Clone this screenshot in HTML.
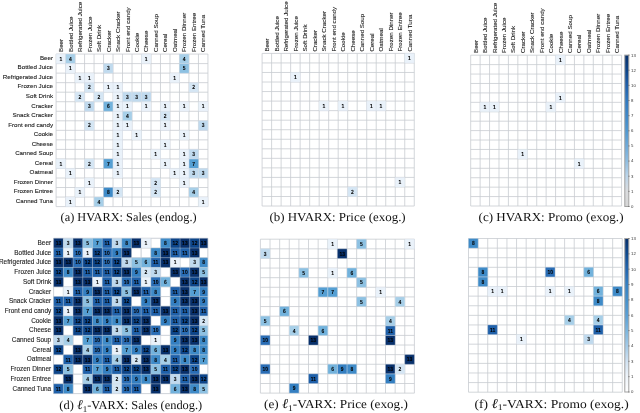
<!DOCTYPE html><html><head><meta charset="utf-8"><style>html,body{margin:0;padding:0;background:#fff;width:640px;height:413px;overflow:hidden}svg{display:block;will-change:transform}</style></head><body>
<svg width="640" height="413" viewBox="0 0 640 413">
<rect width="640" height="413" fill="#fff"/>
<path d="M56.10 54.07V206.60M56.10 54.07H207.94M65.59 54.07V206.60M56.10 63.60H207.94M75.08 54.07V206.60M56.10 73.14H207.94M84.57 54.07V206.60M56.10 82.67H207.94M94.06 54.07V206.60M56.10 92.20H207.94M103.55 54.07V206.60M56.10 101.73H207.94M113.04 54.07V206.60M56.10 111.27H207.94M122.53 54.07V206.60M56.10 120.80H207.94M132.02 54.07V206.60M56.10 130.33H207.94M141.51 54.07V206.60M56.10 139.87H207.94M151.00 54.07V206.60M56.10 149.40H207.94M160.49 54.07V206.60M56.10 158.93H207.94M169.98 54.07V206.60M56.10 168.47H207.94M179.47 54.07V206.60M56.10 178.00H207.94M188.96 54.07V206.60M56.10 187.53H207.94M198.45 54.07V206.60M56.10 197.06H207.94M207.94 54.07V206.60M56.10 206.60H207.94" stroke="#c8ccd0" stroke-width="0.80" fill="none"/>
<rect x="56.10" y="54.07" width="9.49" height="9.53" fill="#eaf2fa"/><rect x="65.59" y="54.07" width="9.49" height="9.53" fill="#a7cfe8"/><rect x="141.51" y="54.07" width="9.49" height="9.53" fill="#eaf2fa"/><rect x="179.47" y="54.07" width="9.49" height="9.53" fill="#a7cfe8"/><rect x="65.59" y="63.60" width="9.49" height="9.53" fill="#eaf2fa"/><rect x="103.55" y="63.60" width="9.49" height="9.53" fill="#c0daee"/><rect x="179.47" y="63.60" width="9.49" height="9.53" fill="#8dc1e2"/><rect x="75.08" y="73.14" width="9.49" height="9.53" fill="#eaf2fa"/><rect x="84.57" y="73.14" width="9.49" height="9.53" fill="#eaf2fa"/><rect x="169.98" y="73.14" width="9.49" height="9.53" fill="#eaf2fa"/><rect x="84.57" y="82.67" width="9.49" height="9.53" fill="#d5e6f4"/><rect x="103.55" y="82.67" width="9.49" height="9.53" fill="#eaf2fa"/><rect x="113.04" y="82.67" width="9.49" height="9.53" fill="#eaf2fa"/><rect x="188.96" y="82.67" width="9.49" height="9.53" fill="#d5e6f4"/><rect x="75.08" y="92.20" width="9.49" height="9.53" fill="#d5e6f4"/><rect x="94.06" y="92.20" width="9.49" height="9.53" fill="#d5e6f4"/><rect x="113.04" y="92.20" width="9.49" height="9.53" fill="#eaf2fa"/><rect x="122.53" y="92.20" width="9.49" height="9.53" fill="#c0daee"/><rect x="132.02" y="92.20" width="9.49" height="9.53" fill="#c0daee"/><rect x="141.51" y="92.20" width="9.49" height="9.53" fill="#c0daee"/><rect x="84.57" y="101.73" width="9.49" height="9.53" fill="#c0daee"/><rect x="103.55" y="101.73" width="9.49" height="9.53" fill="#72b2dc"/><rect x="113.04" y="101.73" width="9.49" height="9.53" fill="#eaf2fa"/><rect x="122.53" y="101.73" width="9.49" height="9.53" fill="#eaf2fa"/><rect x="141.51" y="101.73" width="9.49" height="9.53" fill="#eaf2fa"/><rect x="160.49" y="101.73" width="9.49" height="9.53" fill="#eaf2fa"/><rect x="179.47" y="101.73" width="9.49" height="9.53" fill="#eaf2fa"/><rect x="198.45" y="101.73" width="9.49" height="9.53" fill="#eaf2fa"/><rect x="113.04" y="111.27" width="9.49" height="9.53" fill="#eaf2fa"/><rect x="122.53" y="111.27" width="9.49" height="9.53" fill="#a7cfe8"/><rect x="160.49" y="111.27" width="9.49" height="9.53" fill="#d5e6f4"/><rect x="84.57" y="120.80" width="9.49" height="9.53" fill="#d5e6f4"/><rect x="113.04" y="120.80" width="9.49" height="9.53" fill="#eaf2fa"/><rect x="122.53" y="120.80" width="9.49" height="9.53" fill="#eaf2fa"/><rect x="160.49" y="120.80" width="9.49" height="9.53" fill="#eaf2fa"/><rect x="198.45" y="120.80" width="9.49" height="9.53" fill="#c0daee"/><rect x="113.04" y="130.33" width="9.49" height="9.53" fill="#eaf2fa"/><rect x="132.02" y="130.33" width="9.49" height="9.53" fill="#eaf2fa"/><rect x="179.47" y="130.33" width="9.49" height="9.53" fill="#eaf2fa"/><rect x="113.04" y="139.87" width="9.49" height="9.53" fill="#eaf2fa"/><rect x="160.49" y="139.87" width="9.49" height="9.53" fill="#eaf2fa"/><rect x="113.04" y="149.40" width="9.49" height="9.53" fill="#eaf2fa"/><rect x="151.00" y="149.40" width="9.49" height="9.53" fill="#eaf2fa"/><rect x="179.47" y="149.40" width="9.49" height="9.53" fill="#eaf2fa"/><rect x="188.96" y="149.40" width="9.49" height="9.53" fill="#c0daee"/><rect x="56.10" y="158.93" width="9.49" height="9.53" fill="#eaf2fa"/><rect x="84.57" y="158.93" width="9.49" height="9.53" fill="#d5e6f4"/><rect x="103.55" y="158.93" width="9.49" height="9.53" fill="#559fd3"/><rect x="113.04" y="158.93" width="9.49" height="9.53" fill="#eaf2fa"/><rect x="160.49" y="158.93" width="9.49" height="9.53" fill="#eaf2fa"/><rect x="179.47" y="158.93" width="9.49" height="9.53" fill="#eaf2fa"/><rect x="188.96" y="158.93" width="9.49" height="9.53" fill="#559fd3"/><rect x="65.59" y="168.47" width="9.49" height="9.53" fill="#eaf2fa"/><rect x="113.04" y="168.47" width="9.49" height="9.53" fill="#eaf2fa"/><rect x="169.98" y="168.47" width="9.49" height="9.53" fill="#eaf2fa"/><rect x="179.47" y="168.47" width="9.49" height="9.53" fill="#eaf2fa"/><rect x="188.96" y="168.47" width="9.49" height="9.53" fill="#c0daee"/><rect x="198.45" y="168.47" width="9.49" height="9.53" fill="#c0daee"/><rect x="84.57" y="178.00" width="9.49" height="9.53" fill="#eaf2fa"/><rect x="151.00" y="178.00" width="9.49" height="9.53" fill="#d5e6f4"/><rect x="179.47" y="178.00" width="9.49" height="9.53" fill="#eaf2fa"/><rect x="75.08" y="187.53" width="9.49" height="9.53" fill="#eaf2fa"/><rect x="103.55" y="187.53" width="9.49" height="9.53" fill="#3f8bc8"/><rect x="113.04" y="187.53" width="9.49" height="9.53" fill="#d5e6f4"/><rect x="151.00" y="187.53" width="9.49" height="9.53" fill="#d5e6f4"/><rect x="188.96" y="187.53" width="9.49" height="9.53" fill="#a7cfe8"/><rect x="65.59" y="197.06" width="9.49" height="9.53" fill="#eaf2fa"/><rect x="94.06" y="197.06" width="9.49" height="9.53" fill="#a7cfe8"/><rect x="198.45" y="197.06" width="9.49" height="9.53" fill="#eaf2fa"/>
<path d="M56.10 54.07H65.59V63.60H56.10ZM65.59 54.07H75.08V63.60H65.59ZM141.51 54.07H151.00V63.60H141.51ZM179.47 54.07H188.96V63.60H179.47ZM65.59 63.60H75.08V73.14H65.59ZM103.55 63.60H113.04V73.14H103.55ZM179.47 63.60H188.96V73.14H179.47ZM75.08 73.14H84.57V82.67H75.08ZM84.57 73.14H94.06V82.67H84.57ZM169.98 73.14H179.47V82.67H169.98ZM84.57 82.67H94.06V92.20H84.57ZM103.55 82.67H113.04V92.20H103.55ZM113.04 82.67H122.53V92.20H113.04ZM188.96 82.67H198.45V92.20H188.96ZM75.08 92.20H84.57V101.73H75.08ZM94.06 92.20H103.55V101.73H94.06ZM113.04 92.20H122.53V101.73H113.04ZM122.53 92.20H132.02V101.73H122.53ZM132.02 92.20H141.51V101.73H132.02ZM141.51 92.20H151.00V101.73H141.51ZM84.57 101.73H94.06V111.27H84.57ZM103.55 101.73H113.04V111.27H103.55ZM113.04 101.73H122.53V111.27H113.04ZM122.53 101.73H132.02V111.27H122.53ZM141.51 101.73H151.00V111.27H141.51ZM160.49 101.73H169.98V111.27H160.49ZM179.47 101.73H188.96V111.27H179.47ZM198.45 101.73H207.94V111.27H198.45ZM113.04 111.27H122.53V120.80H113.04ZM122.53 111.27H132.02V120.80H122.53ZM160.49 111.27H169.98V120.80H160.49ZM84.57 120.80H94.06V130.33H84.57ZM113.04 120.80H122.53V130.33H113.04ZM122.53 120.80H132.02V130.33H122.53ZM160.49 120.80H169.98V130.33H160.49ZM198.45 120.80H207.94V130.33H198.45ZM113.04 130.33H122.53V139.87H113.04ZM132.02 130.33H141.51V139.87H132.02ZM179.47 130.33H188.96V139.87H179.47ZM113.04 139.87H122.53V149.40H113.04ZM160.49 139.87H169.98V149.40H160.49ZM113.04 149.40H122.53V158.93H113.04ZM151.00 149.40H160.49V158.93H151.00ZM179.47 149.40H188.96V158.93H179.47ZM188.96 149.40H198.45V158.93H188.96ZM56.10 158.93H65.59V168.47H56.10ZM84.57 158.93H94.06V168.47H84.57ZM103.55 158.93H113.04V168.47H103.55ZM113.04 158.93H122.53V168.47H113.04ZM160.49 158.93H169.98V168.47H160.49ZM179.47 158.93H188.96V168.47H179.47ZM188.96 158.93H198.45V168.47H188.96ZM65.59 168.47H75.08V178.00H65.59ZM113.04 168.47H122.53V178.00H113.04ZM169.98 168.47H179.47V178.00H169.98ZM179.47 168.47H188.96V178.00H179.47ZM188.96 168.47H198.45V178.00H188.96ZM198.45 168.47H207.94V178.00H198.45ZM84.57 178.00H94.06V187.53H84.57ZM151.00 178.00H160.49V187.53H151.00ZM179.47 178.00H188.96V187.53H179.47ZM75.08 187.53H84.57V197.06H75.08ZM103.55 187.53H113.04V197.06H103.55ZM113.04 187.53H122.53V197.06H113.04ZM151.00 187.53H160.49V197.06H151.00ZM188.96 187.53H198.45V197.06H188.96ZM65.59 197.06H75.08V206.60H65.59ZM94.06 197.06H103.55V206.60H94.06ZM198.45 197.06H207.94V206.60H198.45Z" stroke="rgba(215,225,235,0.5)" stroke-width="0.60" fill="none"/>
<g font-family="Liberation Sans, sans-serif" font-weight="bold" font-size="5.90" fill="#000" stroke="#000" stroke-width="0.05" text-anchor="middle" text-rendering="geometricPrecision"><text transform="translate(60.84 60.76) scale(0.85 1)">1</text><text transform="translate(70.34 60.76) scale(0.85 1)">4</text><text transform="translate(146.25 60.76) scale(0.85 1)">1</text><text transform="translate(184.22 60.76) scale(0.85 1)">4</text><text transform="translate(70.34 70.29) scale(0.85 1)">1</text><text transform="translate(108.30 70.29) scale(0.85 1)">3</text><text transform="translate(184.22 70.29) scale(0.85 1)">5</text><text transform="translate(79.82 79.83) scale(0.85 1)">1</text><text transform="translate(89.31 79.83) scale(0.85 1)">1</text><text transform="translate(174.72 79.83) scale(0.85 1)">1</text><text transform="translate(89.31 89.36) scale(0.85 1)">2</text><text transform="translate(108.30 89.36) scale(0.85 1)">1</text><text transform="translate(117.78 89.36) scale(0.85 1)">1</text><text transform="translate(193.70 89.36) scale(0.85 1)">2</text><text transform="translate(79.82 98.89) scale(0.85 1)">2</text><text transform="translate(98.81 98.89) scale(0.85 1)">2</text><text transform="translate(117.78 98.89) scale(0.85 1)">1</text><text transform="translate(127.28 98.89) scale(0.85 1)">3</text><text transform="translate(136.76 98.89) scale(0.85 1)">3</text><text transform="translate(146.25 98.89) scale(0.85 1)">3</text><text transform="translate(89.31 108.43) scale(0.85 1)">3</text><text transform="translate(108.30 108.43) scale(0.85 1)">6</text><text transform="translate(117.78 108.43) scale(0.85 1)">1</text><text transform="translate(127.28 108.43) scale(0.85 1)">1</text><text transform="translate(146.25 108.43) scale(0.85 1)">1</text><text transform="translate(165.24 108.43) scale(0.85 1)">1</text><text transform="translate(184.22 108.43) scale(0.85 1)">1</text><text transform="translate(203.19 108.43) scale(0.85 1)">1</text><text transform="translate(117.78 117.96) scale(0.85 1)">1</text><text transform="translate(127.28 117.96) scale(0.85 1)">4</text><text transform="translate(165.24 117.96) scale(0.85 1)">2</text><text transform="translate(89.31 127.49) scale(0.85 1)">2</text><text transform="translate(117.78 127.49) scale(0.85 1)">1</text><text transform="translate(127.28 127.49) scale(0.85 1)">1</text><text transform="translate(165.24 127.49) scale(0.85 1)">1</text><text transform="translate(203.19 127.49) scale(0.85 1)">3</text><text transform="translate(117.78 137.02) scale(0.85 1)">1</text><text transform="translate(136.76 137.02) scale(0.85 1)">1</text><text transform="translate(184.22 137.02) scale(0.85 1)">1</text><text transform="translate(117.78 146.56) scale(0.85 1)">1</text><text transform="translate(165.24 146.56) scale(0.85 1)">1</text><text transform="translate(117.78 156.09) scale(0.85 1)">1</text><text transform="translate(155.75 156.09) scale(0.85 1)">1</text><text transform="translate(184.22 156.09) scale(0.85 1)">1</text><text transform="translate(193.70 156.09) scale(0.85 1)">3</text><text transform="translate(60.84 165.62) scale(0.85 1)">1</text><text transform="translate(89.31 165.62) scale(0.85 1)">2</text><text transform="translate(108.30 165.62) scale(0.85 1)">7</text><text transform="translate(117.78 165.62) scale(0.85 1)">1</text><text transform="translate(165.24 165.62) scale(0.85 1)">1</text><text transform="translate(184.22 165.62) scale(0.85 1)">1</text><text transform="translate(193.70 165.62) scale(0.85 1)">7</text><text transform="translate(70.34 175.16) scale(0.85 1)">1</text><text transform="translate(117.78 175.16) scale(0.85 1)">1</text><text transform="translate(174.72 175.16) scale(0.85 1)">1</text><text transform="translate(184.22 175.16) scale(0.85 1)">1</text><text transform="translate(193.70 175.16) scale(0.85 1)">3</text><text transform="translate(203.19 175.16) scale(0.85 1)">3</text><text transform="translate(89.31 184.69) scale(0.85 1)">1</text><text transform="translate(155.75 184.69) scale(0.85 1)">2</text><text transform="translate(184.22 184.69) scale(0.85 1)">1</text><text transform="translate(79.82 194.22) scale(0.85 1)">1</text><text transform="translate(108.30 194.22) scale(0.85 1)">8</text><text transform="translate(117.78 194.22) scale(0.85 1)">2</text><text transform="translate(155.75 194.22) scale(0.85 1)">2</text><text transform="translate(193.70 194.22) scale(0.85 1)">4</text><text transform="translate(70.34 203.76) scale(0.85 1)">1</text><text transform="translate(98.81 203.76) scale(0.85 1)">4</text><text transform="translate(203.19 203.76) scale(0.85 1)">1</text></g>
<path d="M262.10 53.40V206.04M262.10 53.40H414.26M271.61 53.40V206.04M262.10 62.94H414.26M281.12 53.40V206.04M262.10 72.48H414.26M290.63 53.40V206.04M262.10 82.02H414.26M300.14 53.40V206.04M262.10 91.56H414.26M309.65 53.40V206.04M262.10 101.10H414.26M319.16 53.40V206.04M262.10 110.64H414.26M328.67 53.40V206.04M262.10 120.18H414.26M338.18 53.40V206.04M262.10 129.72H414.26M347.69 53.40V206.04M262.10 139.26H414.26M357.20 53.40V206.04M262.10 148.80H414.26M366.71 53.40V206.04M262.10 158.34H414.26M376.22 53.40V206.04M262.10 167.88H414.26M385.73 53.40V206.04M262.10 177.42H414.26M395.24 53.40V206.04M262.10 186.96H414.26M404.75 53.40V206.04M262.10 196.50H414.26M414.26 53.40V206.04M262.10 206.04H414.26" stroke="#c8ccd0" stroke-width="0.80" fill="none"/>
<rect x="404.75" y="53.40" width="9.51" height="9.54" fill="#eaf2fa"/><rect x="290.63" y="72.48" width="9.51" height="9.54" fill="#eaf2fa"/><rect x="319.16" y="101.10" width="9.51" height="9.54" fill="#eaf2fa"/><rect x="338.18" y="101.10" width="9.51" height="9.54" fill="#eaf2fa"/><rect x="366.71" y="101.10" width="9.51" height="9.54" fill="#eaf2fa"/><rect x="376.22" y="101.10" width="9.51" height="9.54" fill="#eaf2fa"/><rect x="395.24" y="177.42" width="9.51" height="9.54" fill="#eaf2fa"/><rect x="347.69" y="186.96" width="9.51" height="9.54" fill="#d5e6f4"/>
<path d="M404.75 53.40H414.26V62.94H404.75ZM290.63 72.48H300.14V82.02H290.63ZM319.16 101.10H328.67V110.64H319.16ZM338.18 101.10H347.69V110.64H338.18ZM366.71 101.10H376.22V110.64H366.71ZM376.22 101.10H385.73V110.64H376.22ZM395.24 177.42H404.75V186.96H395.24ZM347.69 186.96H357.20V196.50H347.69Z" stroke="rgba(215,225,235,0.5)" stroke-width="0.60" fill="none"/>
<g font-family="Liberation Sans, sans-serif" font-weight="bold" font-size="5.90" fill="#000" stroke="#000" stroke-width="0.05" text-anchor="middle" text-rendering="geometricPrecision"><text transform="translate(409.50 60.09) scale(0.85 1)">1</text><text transform="translate(295.38 79.17) scale(0.85 1)">1</text><text transform="translate(323.92 107.79) scale(0.85 1)">1</text><text transform="translate(342.94 107.79) scale(0.85 1)">1</text><text transform="translate(371.47 107.79) scale(0.85 1)">1</text><text transform="translate(380.98 107.79) scale(0.85 1)">1</text><text transform="translate(400.00 184.11) scale(0.85 1)">1</text><text transform="translate(352.45 193.65) scale(0.85 1)">2</text></g>
<path d="M470.70 55.20V206.00M470.70 55.20H621.58M480.13 55.20V206.00M470.70 64.62H621.58M489.56 55.20V206.00M470.70 74.05H621.58M498.99 55.20V206.00M470.70 83.48H621.58M508.42 55.20V206.00M470.70 92.90H621.58M517.85 55.20V206.00M470.70 102.33H621.58M527.28 55.20V206.00M470.70 111.75H621.58M536.71 55.20V206.00M470.70 121.18H621.58M546.14 55.20V206.00M470.70 130.60H621.58M555.57 55.20V206.00M470.70 140.03H621.58M565.00 55.20V206.00M470.70 149.45H621.58M574.43 55.20V206.00M470.70 158.88H621.58M583.86 55.20V206.00M470.70 168.30H621.58M593.29 55.20V206.00M470.70 177.73H621.58M602.72 55.20V206.00M470.70 187.15H621.58M612.15 55.20V206.00M470.70 196.57H621.58M621.58 55.20V206.00M470.70 206.00H621.58" stroke="#c8ccd0" stroke-width="0.80" fill="none"/>
<rect x="555.57" y="55.20" width="9.43" height="9.42" fill="#eaf2fa"/><rect x="555.57" y="92.90" width="9.43" height="9.42" fill="#eaf2fa"/><rect x="480.13" y="102.33" width="9.43" height="9.42" fill="#eaf2fa"/><rect x="489.56" y="102.33" width="9.43" height="9.42" fill="#eaf2fa"/><rect x="546.14" y="102.33" width="9.43" height="9.42" fill="#eaf2fa"/><rect x="517.85" y="149.45" width="9.43" height="9.43" fill="#eaf2fa"/><rect x="574.43" y="158.88" width="9.43" height="9.43" fill="#eaf2fa"/>
<path d="M555.57 55.20H565.00V64.62H555.57ZM555.57 92.90H565.00V102.33H555.57ZM480.13 102.33H489.56V111.75H480.13ZM489.56 102.33H498.99V111.75H489.56ZM546.14 102.33H555.57V111.75H546.14ZM517.85 149.45H527.28V158.88H517.85ZM574.43 158.88H583.86V168.30H574.43Z" stroke="rgba(215,225,235,0.5)" stroke-width="0.60" fill="none"/>
<g font-family="Liberation Sans, sans-serif" font-weight="bold" font-size="5.90" fill="#000" stroke="#000" stroke-width="0.05" text-anchor="middle" text-rendering="geometricPrecision"><text transform="translate(560.28 61.84) scale(0.85 1)">1</text><text transform="translate(560.28 99.54) scale(0.85 1)">1</text><text transform="translate(484.85 108.96) scale(0.85 1)">1</text><text transform="translate(494.27 108.96) scale(0.85 1)">1</text><text transform="translate(550.86 108.96) scale(0.85 1)">1</text><text transform="translate(522.57 156.09) scale(0.85 1)">1</text><text transform="translate(579.14 165.51) scale(0.85 1)">1</text></g>
<path d="M53.60 238.30V393.60M53.60 238.30H207.80M63.33 238.30V393.60M53.60 248.01H207.80M73.05 238.30V393.60M53.60 257.71H207.80M82.78 238.30V393.60M53.60 267.42H207.80M92.51 238.30V393.60M53.60 277.12H207.80M102.24 238.30V393.60M53.60 286.83H207.80M111.96 238.30V393.60M53.60 296.54H207.80M121.69 238.30V393.60M53.60 306.24H207.80M131.42 238.30V393.60M53.60 315.95H207.80M141.14 238.30V393.60M53.60 325.65H207.80M150.87 238.30V393.60M53.60 335.36H207.80M160.60 238.30V393.60M53.60 345.07H207.80M170.32 238.30V393.60M53.60 354.77H207.80M180.05 238.30V393.60M53.60 364.48H207.80M189.78 238.30V393.60M53.60 374.18H207.80M199.50 238.30V393.60M53.60 383.89H207.80M207.80 238.30V393.60M53.60 393.60H207.80" stroke="#c8ccd0" stroke-width="0.80" fill="none"/>
<rect x="53.60" y="238.30" width="9.73" height="9.71" fill="#08306b"/><rect x="63.33" y="238.30" width="9.73" height="9.71" fill="#c0daee"/><rect x="73.05" y="238.30" width="9.73" height="9.71" fill="#08306b"/><rect x="82.78" y="238.30" width="9.73" height="9.71" fill="#8dc1e2"/><rect x="92.51" y="238.30" width="9.73" height="9.71" fill="#559fd3"/><rect x="102.24" y="238.30" width="9.73" height="9.71" fill="#1f60a9"/><rect x="111.96" y="238.30" width="9.73" height="9.71" fill="#c0daee"/><rect x="121.69" y="238.30" width="9.73" height="9.71" fill="#3f8bc8"/><rect x="131.42" y="238.30" width="9.73" height="9.71" fill="#08306b"/><rect x="141.14" y="238.30" width="9.73" height="9.71" fill="#eaf2fa"/><rect x="160.60" y="238.30" width="9.73" height="9.71" fill="#3f8bc8"/><rect x="170.32" y="238.30" width="9.73" height="9.71" fill="#0d4589"/><rect x="180.05" y="238.30" width="9.73" height="9.71" fill="#08306b"/><rect x="189.78" y="238.30" width="9.73" height="9.71" fill="#0d4589"/><rect x="199.50" y="238.30" width="8.30" height="9.71" fill="#08306b"/><rect x="53.60" y="248.01" width="9.73" height="9.71" fill="#1f60a9"/><rect x="63.33" y="248.01" width="9.73" height="9.71" fill="#eaf2fa"/><rect x="73.05" y="248.01" width="9.73" height="9.71" fill="#2a6db5"/><rect x="82.78" y="248.01" width="9.73" height="9.71" fill="#eaf2fa"/><rect x="92.51" y="248.01" width="9.73" height="9.71" fill="#0d4589"/><rect x="102.24" y="248.01" width="9.73" height="9.71" fill="#2a6db5"/><rect x="111.96" y="248.01" width="9.73" height="9.71" fill="#347fc1"/><rect x="121.69" y="248.01" width="9.73" height="9.71" fill="#08306b"/><rect x="150.87" y="248.01" width="9.73" height="9.71" fill="#3f8bc8"/><rect x="160.60" y="248.01" width="9.73" height="9.71" fill="#08306b"/><rect x="170.32" y="248.01" width="9.73" height="9.71" fill="#1f60a9"/><rect x="180.05" y="248.01" width="9.73" height="9.71" fill="#1f60a9"/><rect x="189.78" y="248.01" width="9.73" height="9.71" fill="#08306b"/><rect x="53.60" y="257.71" width="9.73" height="9.71" fill="#08306b"/><rect x="63.33" y="257.71" width="9.73" height="9.71" fill="#08306b"/><rect x="73.05" y="257.71" width="9.73" height="9.71" fill="#2a6db5"/><rect x="82.78" y="257.71" width="9.73" height="9.71" fill="#0d4589"/><rect x="92.51" y="257.71" width="9.73" height="9.71" fill="#0d4589"/><rect x="102.24" y="257.71" width="9.73" height="9.71" fill="#2a6db5"/><rect x="111.96" y="257.71" width="9.73" height="9.71" fill="#0d4589"/><rect x="121.69" y="257.71" width="9.73" height="9.71" fill="#c0daee"/><rect x="131.42" y="257.71" width="9.73" height="9.71" fill="#8dc1e2"/><rect x="141.14" y="257.71" width="9.73" height="9.71" fill="#72b2dc"/><rect x="150.87" y="257.71" width="9.73" height="9.71" fill="#1f60a9"/><rect x="160.60" y="257.71" width="9.73" height="9.71" fill="#08306b"/><rect x="170.32" y="257.71" width="9.73" height="9.71" fill="#eaf2fa"/><rect x="189.78" y="257.71" width="9.73" height="9.71" fill="#c0daee"/><rect x="199.50" y="257.71" width="8.30" height="9.71" fill="#3f8bc8"/><rect x="53.60" y="267.42" width="9.73" height="9.71" fill="#0d4589"/><rect x="63.33" y="267.42" width="9.73" height="9.71" fill="#3f8bc8"/><rect x="73.05" y="267.42" width="9.73" height="9.71" fill="#08306b"/><rect x="82.78" y="267.42" width="9.73" height="9.71" fill="#1f60a9"/><rect x="92.51" y="267.42" width="9.73" height="9.71" fill="#1f60a9"/><rect x="102.24" y="267.42" width="9.73" height="9.71" fill="#1f60a9"/><rect x="111.96" y="267.42" width="9.73" height="9.71" fill="#0d4589"/><rect x="121.69" y="267.42" width="9.73" height="9.71" fill="#08306b"/><rect x="131.42" y="267.42" width="9.73" height="9.71" fill="#347fc1"/><rect x="141.14" y="267.42" width="9.73" height="9.71" fill="#d5e6f4"/><rect x="150.87" y="267.42" width="9.73" height="9.71" fill="#c0daee"/><rect x="170.32" y="267.42" width="9.73" height="9.71" fill="#08306b"/><rect x="180.05" y="267.42" width="9.73" height="9.71" fill="#2a6db5"/><rect x="189.78" y="267.42" width="9.73" height="9.71" fill="#08306b"/><rect x="199.50" y="267.42" width="8.30" height="9.71" fill="#8dc1e2"/><rect x="53.60" y="277.12" width="9.73" height="9.71" fill="#08306b"/><rect x="73.05" y="277.12" width="9.73" height="9.71" fill="#08306b"/><rect x="82.78" y="277.12" width="9.73" height="9.71" fill="#08306b"/><rect x="92.51" y="277.12" width="9.73" height="9.71" fill="#eaf2fa"/><rect x="102.24" y="277.12" width="9.73" height="9.71" fill="#1f60a9"/><rect x="111.96" y="277.12" width="9.73" height="9.71" fill="#c0daee"/><rect x="121.69" y="277.12" width="9.73" height="9.71" fill="#2a6db5"/><rect x="131.42" y="277.12" width="9.73" height="9.71" fill="#1f60a9"/><rect x="141.14" y="277.12" width="9.73" height="9.71" fill="#eaf2fa"/><rect x="150.87" y="277.12" width="9.73" height="9.71" fill="#2a6db5"/><rect x="160.60" y="277.12" width="9.73" height="9.71" fill="#72b2dc"/><rect x="180.05" y="277.12" width="9.73" height="9.71" fill="#08306b"/><rect x="189.78" y="277.12" width="9.73" height="9.71" fill="#0d4589"/><rect x="199.50" y="277.12" width="8.30" height="9.71" fill="#08306b"/><rect x="63.33" y="286.83" width="9.73" height="9.71" fill="#eaf2fa"/><rect x="73.05" y="286.83" width="9.73" height="9.71" fill="#1f60a9"/><rect x="82.78" y="286.83" width="9.73" height="9.71" fill="#347fc1"/><rect x="92.51" y="286.83" width="9.73" height="9.71" fill="#08306b"/><rect x="102.24" y="286.83" width="9.73" height="9.71" fill="#1f60a9"/><rect x="111.96" y="286.83" width="9.73" height="9.71" fill="#0d4589"/><rect x="121.69" y="286.83" width="9.73" height="9.71" fill="#8dc1e2"/><rect x="131.42" y="286.83" width="9.73" height="9.71" fill="#08306b"/><rect x="141.14" y="286.83" width="9.73" height="9.71" fill="#1f60a9"/><rect x="150.87" y="286.83" width="9.73" height="9.71" fill="#3f8bc8"/><rect x="170.32" y="286.83" width="9.73" height="9.71" fill="#1f60a9"/><rect x="180.05" y="286.83" width="9.73" height="9.71" fill="#08306b"/><rect x="189.78" y="286.83" width="9.73" height="9.71" fill="#559fd3"/><rect x="199.50" y="286.83" width="8.30" height="9.71" fill="#347fc1"/><rect x="53.60" y="296.54" width="9.73" height="9.71" fill="#1f60a9"/><rect x="63.33" y="296.54" width="9.73" height="9.71" fill="#1f60a9"/><rect x="73.05" y="296.54" width="9.73" height="9.71" fill="#08306b"/><rect x="82.78" y="296.54" width="9.73" height="9.71" fill="#8dc1e2"/><rect x="92.51" y="296.54" width="9.73" height="9.71" fill="#1f60a9"/><rect x="102.24" y="296.54" width="9.73" height="9.71" fill="#1f60a9"/><rect x="111.96" y="296.54" width="9.73" height="9.71" fill="#c0daee"/><rect x="121.69" y="296.54" width="9.73" height="9.71" fill="#0d4589"/><rect x="141.14" y="296.54" width="9.73" height="9.71" fill="#347fc1"/><rect x="150.87" y="296.54" width="9.73" height="9.71" fill="#08306b"/><rect x="170.32" y="296.54" width="9.73" height="9.71" fill="#347fc1"/><rect x="180.05" y="296.54" width="9.73" height="9.71" fill="#08306b"/><rect x="189.78" y="296.54" width="9.73" height="9.71" fill="#08306b"/><rect x="199.50" y="296.54" width="8.30" height="9.71" fill="#347fc1"/><rect x="53.60" y="306.24" width="9.73" height="9.71" fill="#0d4589"/><rect x="63.33" y="306.24" width="9.73" height="9.71" fill="#eaf2fa"/><rect x="73.05" y="306.24" width="9.73" height="9.71" fill="#08306b"/><rect x="82.78" y="306.24" width="9.73" height="9.71" fill="#559fd3"/><rect x="92.51" y="306.24" width="9.73" height="9.71" fill="#08306b"/><rect x="102.24" y="306.24" width="9.73" height="9.71" fill="#08306b"/><rect x="111.96" y="306.24" width="9.73" height="9.71" fill="#1f60a9"/><rect x="121.69" y="306.24" width="9.73" height="9.71" fill="#08306b"/><rect x="131.42" y="306.24" width="9.73" height="9.71" fill="#2a6db5"/><rect x="141.14" y="306.24" width="9.73" height="9.71" fill="#1f60a9"/><rect x="150.87" y="306.24" width="9.73" height="9.71" fill="#1f60a9"/><rect x="160.60" y="306.24" width="9.73" height="9.71" fill="#08306b"/><rect x="170.32" y="306.24" width="9.73" height="9.71" fill="#1f60a9"/><rect x="180.05" y="306.24" width="9.73" height="9.71" fill="#1f60a9"/><rect x="189.78" y="306.24" width="9.73" height="9.71" fill="#08306b"/><rect x="199.50" y="306.24" width="8.30" height="9.71" fill="#1f60a9"/><rect x="53.60" y="315.95" width="9.73" height="9.71" fill="#08306b"/><rect x="63.33" y="315.95" width="9.73" height="9.71" fill="#559fd3"/><rect x="73.05" y="315.95" width="9.73" height="9.71" fill="#0d4589"/><rect x="82.78" y="315.95" width="9.73" height="9.71" fill="#0d4589"/><rect x="92.51" y="315.95" width="9.73" height="9.71" fill="#3f8bc8"/><rect x="102.24" y="315.95" width="9.73" height="9.71" fill="#347fc1"/><rect x="111.96" y="315.95" width="9.73" height="9.71" fill="#3f8bc8"/><rect x="121.69" y="315.95" width="9.73" height="9.71" fill="#08306b"/><rect x="131.42" y="315.95" width="9.73" height="9.71" fill="#0d4589"/><rect x="141.14" y="315.95" width="9.73" height="9.71" fill="#08306b"/><rect x="160.60" y="315.95" width="9.73" height="9.71" fill="#347fc1"/><rect x="170.32" y="315.95" width="9.73" height="9.71" fill="#1f60a9"/><rect x="180.05" y="315.95" width="9.73" height="9.71" fill="#0d4589"/><rect x="189.78" y="315.95" width="9.73" height="9.71" fill="#08306b"/><rect x="199.50" y="315.95" width="8.30" height="9.71" fill="#d5e6f4"/><rect x="53.60" y="325.65" width="9.73" height="9.71" fill="#08306b"/><rect x="73.05" y="325.65" width="9.73" height="9.71" fill="#0d4589"/><rect x="82.78" y="325.65" width="9.73" height="9.71" fill="#0d4589"/><rect x="92.51" y="325.65" width="9.73" height="9.71" fill="#08306b"/><rect x="102.24" y="325.65" width="9.73" height="9.71" fill="#08306b"/><rect x="111.96" y="325.65" width="9.73" height="9.71" fill="#c0daee"/><rect x="121.69" y="325.65" width="9.73" height="9.71" fill="#8dc1e2"/><rect x="131.42" y="325.65" width="9.73" height="9.71" fill="#1f60a9"/><rect x="141.14" y="325.65" width="9.73" height="9.71" fill="#08306b"/><rect x="150.87" y="325.65" width="9.73" height="9.71" fill="#2a6db5"/><rect x="170.32" y="325.65" width="9.73" height="9.71" fill="#0d4589"/><rect x="180.05" y="325.65" width="9.73" height="9.71" fill="#2a6db5"/><rect x="189.78" y="325.65" width="9.73" height="9.71" fill="#0d4589"/><rect x="199.50" y="325.65" width="8.30" height="9.71" fill="#8dc1e2"/><rect x="53.60" y="335.36" width="9.73" height="9.71" fill="#c0daee"/><rect x="63.33" y="335.36" width="9.73" height="9.71" fill="#a7cfe8"/><rect x="82.78" y="335.36" width="9.73" height="9.71" fill="#559fd3"/><rect x="92.51" y="335.36" width="9.73" height="9.71" fill="#2a6db5"/><rect x="102.24" y="335.36" width="9.73" height="9.71" fill="#3f8bc8"/><rect x="111.96" y="335.36" width="9.73" height="9.71" fill="#1f60a9"/><rect x="121.69" y="335.36" width="9.73" height="9.71" fill="#2a6db5"/><rect x="131.42" y="335.36" width="9.73" height="9.71" fill="#08306b"/><rect x="150.87" y="335.36" width="9.73" height="9.71" fill="#eaf2fa"/><rect x="170.32" y="335.36" width="9.73" height="9.71" fill="#347fc1"/><rect x="180.05" y="335.36" width="9.73" height="9.71" fill="#08306b"/><rect x="189.78" y="335.36" width="9.73" height="9.71" fill="#08306b"/><rect x="199.50" y="335.36" width="8.30" height="9.71" fill="#3f8bc8"/><rect x="53.60" y="345.07" width="9.73" height="9.71" fill="#0d4589"/><rect x="73.05" y="345.07" width="9.73" height="9.71" fill="#08306b"/><rect x="82.78" y="345.07" width="9.73" height="9.71" fill="#a7cfe8"/><rect x="92.51" y="345.07" width="9.73" height="9.71" fill="#2a6db5"/><rect x="102.24" y="345.07" width="9.73" height="9.71" fill="#347fc1"/><rect x="111.96" y="345.07" width="9.73" height="9.71" fill="#eaf2fa"/><rect x="121.69" y="345.07" width="9.73" height="9.71" fill="#559fd3"/><rect x="131.42" y="345.07" width="9.73" height="9.71" fill="#347fc1"/><rect x="141.14" y="345.07" width="9.73" height="9.71" fill="#0d4589"/><rect x="150.87" y="345.07" width="9.73" height="9.71" fill="#72b2dc"/><rect x="160.60" y="345.07" width="9.73" height="9.71" fill="#08306b"/><rect x="170.32" y="345.07" width="9.73" height="9.71" fill="#347fc1"/><rect x="180.05" y="345.07" width="9.73" height="9.71" fill="#0d4589"/><rect x="189.78" y="345.07" width="9.73" height="9.71" fill="#3f8bc8"/><rect x="199.50" y="345.07" width="8.30" height="9.71" fill="#3f8bc8"/><rect x="63.33" y="354.77" width="9.73" height="9.71" fill="#1f60a9"/><rect x="73.05" y="354.77" width="9.73" height="9.71" fill="#08306b"/><rect x="82.78" y="354.77" width="9.73" height="9.71" fill="#08306b"/><rect x="92.51" y="354.77" width="9.73" height="9.71" fill="#347fc1"/><rect x="102.24" y="354.77" width="9.73" height="9.71" fill="#1f60a9"/><rect x="111.96" y="354.77" width="9.73" height="9.71" fill="#a7cfe8"/><rect x="121.69" y="354.77" width="9.73" height="9.71" fill="#08306b"/><rect x="131.42" y="354.77" width="9.73" height="9.71" fill="#d5e6f4"/><rect x="141.14" y="354.77" width="9.73" height="9.71" fill="#08306b"/><rect x="150.87" y="354.77" width="9.73" height="9.71" fill="#3f8bc8"/><rect x="160.60" y="354.77" width="9.73" height="9.71" fill="#a7cfe8"/><rect x="170.32" y="354.77" width="9.73" height="9.71" fill="#1f60a9"/><rect x="180.05" y="354.77" width="9.73" height="9.71" fill="#3f8bc8"/><rect x="189.78" y="354.77" width="9.73" height="9.71" fill="#0d4589"/><rect x="199.50" y="354.77" width="8.30" height="9.71" fill="#559fd3"/><rect x="53.60" y="364.48" width="9.73" height="9.71" fill="#0d4589"/><rect x="63.33" y="364.48" width="9.73" height="9.71" fill="#8dc1e2"/><rect x="82.78" y="364.48" width="9.73" height="9.71" fill="#1f60a9"/><rect x="92.51" y="364.48" width="9.73" height="9.71" fill="#559fd3"/><rect x="102.24" y="364.48" width="9.73" height="9.71" fill="#347fc1"/><rect x="111.96" y="364.48" width="9.73" height="9.71" fill="#1f60a9"/><rect x="121.69" y="364.48" width="9.73" height="9.71" fill="#0d4589"/><rect x="131.42" y="364.48" width="9.73" height="9.71" fill="#0d4589"/><rect x="141.14" y="364.48" width="9.73" height="9.71" fill="#08306b"/><rect x="150.87" y="364.48" width="9.73" height="9.71" fill="#8dc1e2"/><rect x="160.60" y="364.48" width="9.73" height="9.71" fill="#1f60a9"/><rect x="170.32" y="364.48" width="9.73" height="9.71" fill="#0d4589"/><rect x="180.05" y="364.48" width="9.73" height="9.71" fill="#08306b"/><rect x="189.78" y="364.48" width="9.73" height="9.71" fill="#2a6db5"/><rect x="63.33" y="374.18" width="9.73" height="9.71" fill="#08306b"/><rect x="82.78" y="374.18" width="9.73" height="9.71" fill="#a7cfe8"/><rect x="92.51" y="374.18" width="9.73" height="9.71" fill="#08306b"/><rect x="102.24" y="374.18" width="9.73" height="9.71" fill="#08306b"/><rect x="111.96" y="374.18" width="9.73" height="9.71" fill="#d5e6f4"/><rect x="121.69" y="374.18" width="9.73" height="9.71" fill="#2a6db5"/><rect x="131.42" y="374.18" width="9.73" height="9.71" fill="#347fc1"/><rect x="141.14" y="374.18" width="9.73" height="9.71" fill="#3f8bc8"/><rect x="150.87" y="374.18" width="9.73" height="9.71" fill="#08306b"/><rect x="160.60" y="374.18" width="9.73" height="9.71" fill="#08306b"/><rect x="170.32" y="374.18" width="9.73" height="9.71" fill="#c0daee"/><rect x="180.05" y="374.18" width="9.73" height="9.71" fill="#1f60a9"/><rect x="189.78" y="374.18" width="9.73" height="9.71" fill="#08306b"/><rect x="199.50" y="374.18" width="8.30" height="9.71" fill="#0d4589"/><rect x="53.60" y="383.89" width="9.73" height="9.71" fill="#1f60a9"/><rect x="63.33" y="383.89" width="9.73" height="9.71" fill="#3f8bc8"/><rect x="82.78" y="383.89" width="9.73" height="9.71" fill="#08306b"/><rect x="92.51" y="383.89" width="9.73" height="9.71" fill="#72b2dc"/><rect x="102.24" y="383.89" width="9.73" height="9.71" fill="#1f60a9"/><rect x="111.96" y="383.89" width="9.73" height="9.71" fill="#d5e6f4"/><rect x="121.69" y="383.89" width="9.73" height="9.71" fill="#2a6db5"/><rect x="131.42" y="383.89" width="9.73" height="9.71" fill="#1f60a9"/><rect x="150.87" y="383.89" width="9.73" height="9.71" fill="#08306b"/><rect x="170.32" y="383.89" width="9.73" height="9.71" fill="#72b2dc"/><rect x="180.05" y="383.89" width="9.73" height="9.71" fill="#08306b"/><rect x="189.78" y="383.89" width="9.73" height="9.71" fill="#3f8bc8"/><rect x="199.50" y="383.89" width="8.30" height="9.71" fill="#8dc1e2"/>
<path d="M53.60 238.30V393.60M53.60 238.30H207.80M63.33 238.30V393.60M53.60 248.01H207.80M73.05 238.30V393.60M53.60 257.71H207.80M82.78 238.30V393.60M53.60 267.42H207.80M92.51 238.30V393.60M53.60 277.12H207.80M102.24 238.30V393.60M53.60 286.83H207.80M111.96 238.30V393.60M53.60 296.54H207.80M121.69 238.30V393.60M53.60 306.24H207.80M131.42 238.30V393.60M53.60 315.95H207.80M141.14 238.30V393.60M53.60 325.65H207.80M150.87 238.30V393.60M53.60 335.36H207.80M160.60 238.30V393.60M53.60 345.07H207.80M170.32 238.30V393.60M53.60 354.77H207.80M180.05 238.30V393.60M53.60 364.48H207.80M189.78 238.30V393.60M53.60 374.18H207.80M199.50 238.30V393.60M53.60 383.89H207.80M207.80 238.30V393.60M53.60 393.60H207.80" stroke="rgba(205,212,220,0.6)" stroke-width="0.60" fill="none"/>
<g font-family="Liberation Sans, sans-serif" font-weight="bold" font-size="5.90" fill="#000" stroke="#000" stroke-width="0.05" text-anchor="middle" text-rendering="geometricPrecision"><text transform="translate(58.46 245.08) scale(0.85 1)">13</text><text transform="translate(68.19 245.08) scale(0.85 1)">3</text><text transform="translate(77.92 245.08) scale(0.85 1)">13</text><text transform="translate(87.64 245.08) scale(0.85 1)">5</text><text transform="translate(97.37 245.08) scale(0.85 1)">7</text><text transform="translate(107.10 245.08) scale(0.85 1)">11</text><text transform="translate(116.83 245.08) scale(0.85 1)">3</text><text transform="translate(126.55 245.08) scale(0.85 1)">8</text><text transform="translate(136.28 245.08) scale(0.85 1)">13</text><text transform="translate(146.01 245.08) scale(0.85 1)">1</text><text transform="translate(165.46 245.08) scale(0.85 1)">8</text><text transform="translate(175.19 245.08) scale(0.85 1)">12</text><text transform="translate(184.91 245.08) scale(0.85 1)">13</text><text transform="translate(194.64 245.08) scale(0.85 1)">12</text><text transform="translate(203.65 245.08) scale(0.85 1)">13</text><text transform="translate(58.46 254.78) scale(0.85 1)">11</text><text transform="translate(68.19 254.78) scale(0.85 1)">1</text><text transform="translate(77.92 254.78) scale(0.85 1)">10</text><text transform="translate(87.64 254.78) scale(0.85 1)">1</text><text transform="translate(97.37 254.78) scale(0.85 1)">12</text><text transform="translate(107.10 254.78) scale(0.85 1)">10</text><text transform="translate(116.83 254.78) scale(0.85 1)">9</text><text transform="translate(126.55 254.78) scale(0.85 1)">13</text><text transform="translate(155.73 254.78) scale(0.85 1)">8</text><text transform="translate(165.46 254.78) scale(0.85 1)">13</text><text transform="translate(175.19 254.78) scale(0.85 1)">11</text><text transform="translate(184.91 254.78) scale(0.85 1)">11</text><text transform="translate(194.64 254.78) scale(0.85 1)">13</text><text transform="translate(58.46 264.49) scale(0.85 1)">13</text><text transform="translate(68.19 264.49) scale(0.85 1)">13</text><text transform="translate(77.92 264.49) scale(0.85 1)">10</text><text transform="translate(87.64 264.49) scale(0.85 1)">12</text><text transform="translate(97.37 264.49) scale(0.85 1)">12</text><text transform="translate(107.10 264.49) scale(0.85 1)">10</text><text transform="translate(116.83 264.49) scale(0.85 1)">12</text><text transform="translate(126.55 264.49) scale(0.85 1)">3</text><text transform="translate(136.28 264.49) scale(0.85 1)">5</text><text transform="translate(146.01 264.49) scale(0.85 1)">6</text><text transform="translate(155.73 264.49) scale(0.85 1)">11</text><text transform="translate(165.46 264.49) scale(0.85 1)">13</text><text transform="translate(175.19 264.49) scale(0.85 1)">1</text><text transform="translate(194.64 264.49) scale(0.85 1)">3</text><text transform="translate(203.65 264.49) scale(0.85 1)">8</text><text transform="translate(58.46 274.20) scale(0.85 1)">12</text><text transform="translate(68.19 274.20) scale(0.85 1)">8</text><text transform="translate(77.92 274.20) scale(0.85 1)">13</text><text transform="translate(87.64 274.20) scale(0.85 1)">11</text><text transform="translate(97.37 274.20) scale(0.85 1)">11</text><text transform="translate(107.10 274.20) scale(0.85 1)">11</text><text transform="translate(116.83 274.20) scale(0.85 1)">12</text><text transform="translate(126.55 274.20) scale(0.85 1)">13</text><text transform="translate(136.28 274.20) scale(0.85 1)">9</text><text transform="translate(146.01 274.20) scale(0.85 1)">2</text><text transform="translate(155.73 274.20) scale(0.85 1)">3</text><text transform="translate(175.19 274.20) scale(0.85 1)">13</text><text transform="translate(184.91 274.20) scale(0.85 1)">10</text><text transform="translate(194.64 274.20) scale(0.85 1)">13</text><text transform="translate(203.65 274.20) scale(0.85 1)">5</text><text transform="translate(58.46 283.90) scale(0.85 1)">13</text><text transform="translate(77.92 283.90) scale(0.85 1)">13</text><text transform="translate(87.64 283.90) scale(0.85 1)">13</text><text transform="translate(97.37 283.90) scale(0.85 1)">1</text><text transform="translate(107.10 283.90) scale(0.85 1)">11</text><text transform="translate(116.83 283.90) scale(0.85 1)">3</text><text transform="translate(126.55 283.90) scale(0.85 1)">10</text><text transform="translate(136.28 283.90) scale(0.85 1)">11</text><text transform="translate(146.01 283.90) scale(0.85 1)">1</text><text transform="translate(155.73 283.90) scale(0.85 1)">10</text><text transform="translate(165.46 283.90) scale(0.85 1)">6</text><text transform="translate(184.91 283.90) scale(0.85 1)">13</text><text transform="translate(194.64 283.90) scale(0.85 1)">12</text><text transform="translate(203.65 283.90) scale(0.85 1)">13</text><text transform="translate(68.19 293.61) scale(0.85 1)">1</text><text transform="translate(77.92 293.61) scale(0.85 1)">11</text><text transform="translate(87.64 293.61) scale(0.85 1)">9</text><text transform="translate(97.37 293.61) scale(0.85 1)">13</text><text transform="translate(107.10 293.61) scale(0.85 1)">11</text><text transform="translate(116.83 293.61) scale(0.85 1)">12</text><text transform="translate(126.55 293.61) scale(0.85 1)">5</text><text transform="translate(136.28 293.61) scale(0.85 1)">13</text><text transform="translate(146.01 293.61) scale(0.85 1)">11</text><text transform="translate(155.73 293.61) scale(0.85 1)">8</text><text transform="translate(175.19 293.61) scale(0.85 1)">11</text><text transform="translate(184.91 293.61) scale(0.85 1)">13</text><text transform="translate(194.64 293.61) scale(0.85 1)">7</text><text transform="translate(203.65 293.61) scale(0.85 1)">9</text><text transform="translate(58.46 303.31) scale(0.85 1)">11</text><text transform="translate(68.19 303.31) scale(0.85 1)">11</text><text transform="translate(77.92 303.31) scale(0.85 1)">13</text><text transform="translate(87.64 303.31) scale(0.85 1)">5</text><text transform="translate(97.37 303.31) scale(0.85 1)">11</text><text transform="translate(107.10 303.31) scale(0.85 1)">11</text><text transform="translate(116.83 303.31) scale(0.85 1)">3</text><text transform="translate(126.55 303.31) scale(0.85 1)">12</text><text transform="translate(146.01 303.31) scale(0.85 1)">9</text><text transform="translate(155.73 303.31) scale(0.85 1)">13</text><text transform="translate(175.19 303.31) scale(0.85 1)">9</text><text transform="translate(184.91 303.31) scale(0.85 1)">13</text><text transform="translate(194.64 303.31) scale(0.85 1)">13</text><text transform="translate(203.65 303.31) scale(0.85 1)">9</text><text transform="translate(58.46 313.02) scale(0.85 1)">12</text><text transform="translate(68.19 313.02) scale(0.85 1)">1</text><text transform="translate(77.92 313.02) scale(0.85 1)">13</text><text transform="translate(87.64 313.02) scale(0.85 1)">7</text><text transform="translate(97.37 313.02) scale(0.85 1)">13</text><text transform="translate(107.10 313.02) scale(0.85 1)">13</text><text transform="translate(116.83 313.02) scale(0.85 1)">11</text><text transform="translate(126.55 313.02) scale(0.85 1)">13</text><text transform="translate(136.28 313.02) scale(0.85 1)">10</text><text transform="translate(146.01 313.02) scale(0.85 1)">11</text><text transform="translate(155.73 313.02) scale(0.85 1)">11</text><text transform="translate(165.46 313.02) scale(0.85 1)">13</text><text transform="translate(175.19 313.02) scale(0.85 1)">11</text><text transform="translate(184.91 313.02) scale(0.85 1)">11</text><text transform="translate(194.64 313.02) scale(0.85 1)">13</text><text transform="translate(203.65 313.02) scale(0.85 1)">11</text><text transform="translate(58.46 322.73) scale(0.85 1)">13</text><text transform="translate(68.19 322.73) scale(0.85 1)">7</text><text transform="translate(77.92 322.73) scale(0.85 1)">12</text><text transform="translate(87.64 322.73) scale(0.85 1)">12</text><text transform="translate(97.37 322.73) scale(0.85 1)">8</text><text transform="translate(107.10 322.73) scale(0.85 1)">9</text><text transform="translate(116.83 322.73) scale(0.85 1)">8</text><text transform="translate(126.55 322.73) scale(0.85 1)">13</text><text transform="translate(136.28 322.73) scale(0.85 1)">12</text><text transform="translate(146.01 322.73) scale(0.85 1)">13</text><text transform="translate(165.46 322.73) scale(0.85 1)">9</text><text transform="translate(175.19 322.73) scale(0.85 1)">11</text><text transform="translate(184.91 322.73) scale(0.85 1)">12</text><text transform="translate(194.64 322.73) scale(0.85 1)">13</text><text transform="translate(203.65 322.73) scale(0.85 1)">2</text><text transform="translate(58.46 332.43) scale(0.85 1)">13</text><text transform="translate(77.92 332.43) scale(0.85 1)">12</text><text transform="translate(87.64 332.43) scale(0.85 1)">12</text><text transform="translate(97.37 332.43) scale(0.85 1)">13</text><text transform="translate(107.10 332.43) scale(0.85 1)">13</text><text transform="translate(116.83 332.43) scale(0.85 1)">3</text><text transform="translate(126.55 332.43) scale(0.85 1)">5</text><text transform="translate(136.28 332.43) scale(0.85 1)">11</text><text transform="translate(146.01 332.43) scale(0.85 1)">13</text><text transform="translate(155.73 332.43) scale(0.85 1)">10</text><text transform="translate(175.19 332.43) scale(0.85 1)">12</text><text transform="translate(184.91 332.43) scale(0.85 1)">10</text><text transform="translate(194.64 332.43) scale(0.85 1)">12</text><text transform="translate(203.65 332.43) scale(0.85 1)">5</text><text transform="translate(58.46 342.14) scale(0.85 1)">3</text><text transform="translate(68.19 342.14) scale(0.85 1)">4</text><text transform="translate(87.64 342.14) scale(0.85 1)">7</text><text transform="translate(97.37 342.14) scale(0.85 1)">10</text><text transform="translate(107.10 342.14) scale(0.85 1)">8</text><text transform="translate(116.83 342.14) scale(0.85 1)">11</text><text transform="translate(126.55 342.14) scale(0.85 1)">10</text><text transform="translate(136.28 342.14) scale(0.85 1)">13</text><text transform="translate(155.73 342.14) scale(0.85 1)">1</text><text transform="translate(175.19 342.14) scale(0.85 1)">9</text><text transform="translate(184.91 342.14) scale(0.85 1)">13</text><text transform="translate(194.64 342.14) scale(0.85 1)">13</text><text transform="translate(203.65 342.14) scale(0.85 1)">8</text><text transform="translate(58.46 351.84) scale(0.85 1)">12</text><text transform="translate(77.92 351.84) scale(0.85 1)">13</text><text transform="translate(87.64 351.84) scale(0.85 1)">4</text><text transform="translate(97.37 351.84) scale(0.85 1)">10</text><text transform="translate(107.10 351.84) scale(0.85 1)">9</text><text transform="translate(116.83 351.84) scale(0.85 1)">1</text><text transform="translate(126.55 351.84) scale(0.85 1)">7</text><text transform="translate(136.28 351.84) scale(0.85 1)">9</text><text transform="translate(146.01 351.84) scale(0.85 1)">12</text><text transform="translate(155.73 351.84) scale(0.85 1)">6</text><text transform="translate(165.46 351.84) scale(0.85 1)">13</text><text transform="translate(175.19 351.84) scale(0.85 1)">9</text><text transform="translate(184.91 351.84) scale(0.85 1)">12</text><text transform="translate(194.64 351.84) scale(0.85 1)">8</text><text transform="translate(203.65 351.84) scale(0.85 1)">8</text><text transform="translate(68.19 361.55) scale(0.85 1)">11</text><text transform="translate(77.92 361.55) scale(0.85 1)">13</text><text transform="translate(87.64 361.55) scale(0.85 1)">13</text><text transform="translate(97.37 361.55) scale(0.85 1)">9</text><text transform="translate(107.10 361.55) scale(0.85 1)">11</text><text transform="translate(116.83 361.55) scale(0.85 1)">4</text><text transform="translate(126.55 361.55) scale(0.85 1)">13</text><text transform="translate(136.28 361.55) scale(0.85 1)">2</text><text transform="translate(146.01 361.55) scale(0.85 1)">13</text><text transform="translate(155.73 361.55) scale(0.85 1)">8</text><text transform="translate(165.46 361.55) scale(0.85 1)">4</text><text transform="translate(175.19 361.55) scale(0.85 1)">11</text><text transform="translate(184.91 361.55) scale(0.85 1)">8</text><text transform="translate(194.64 361.55) scale(0.85 1)">12</text><text transform="translate(203.65 361.55) scale(0.85 1)">7</text><text transform="translate(58.46 371.26) scale(0.85 1)">12</text><text transform="translate(68.19 371.26) scale(0.85 1)">5</text><text transform="translate(87.64 371.26) scale(0.85 1)">11</text><text transform="translate(97.37 371.26) scale(0.85 1)">7</text><text transform="translate(107.10 371.26) scale(0.85 1)">9</text><text transform="translate(116.83 371.26) scale(0.85 1)">11</text><text transform="translate(126.55 371.26) scale(0.85 1)">12</text><text transform="translate(136.28 371.26) scale(0.85 1)">12</text><text transform="translate(146.01 371.26) scale(0.85 1)">13</text><text transform="translate(155.73 371.26) scale(0.85 1)">5</text><text transform="translate(165.46 371.26) scale(0.85 1)">11</text><text transform="translate(175.19 371.26) scale(0.85 1)">12</text><text transform="translate(184.91 371.26) scale(0.85 1)">13</text><text transform="translate(194.64 371.26) scale(0.85 1)">10</text><text transform="translate(68.19 380.96) scale(0.85 1)">13</text><text transform="translate(87.64 380.96) scale(0.85 1)">4</text><text transform="translate(97.37 380.96) scale(0.85 1)">13</text><text transform="translate(107.10 380.96) scale(0.85 1)">13</text><text transform="translate(116.83 380.96) scale(0.85 1)">2</text><text transform="translate(126.55 380.96) scale(0.85 1)">10</text><text transform="translate(136.28 380.96) scale(0.85 1)">9</text><text transform="translate(146.01 380.96) scale(0.85 1)">8</text><text transform="translate(155.73 380.96) scale(0.85 1)">13</text><text transform="translate(165.46 380.96) scale(0.85 1)">13</text><text transform="translate(175.19 380.96) scale(0.85 1)">3</text><text transform="translate(184.91 380.96) scale(0.85 1)">11</text><text transform="translate(194.64 380.96) scale(0.85 1)">13</text><text transform="translate(203.65 380.96) scale(0.85 1)">12</text><text transform="translate(58.46 390.67) scale(0.85 1)">11</text><text transform="translate(68.19 390.67) scale(0.85 1)">8</text><text transform="translate(87.64 390.67) scale(0.85 1)">13</text><text transform="translate(97.37 390.67) scale(0.85 1)">6</text><text transform="translate(107.10 390.67) scale(0.85 1)">11</text><text transform="translate(116.83 390.67) scale(0.85 1)">2</text><text transform="translate(126.55 390.67) scale(0.85 1)">10</text><text transform="translate(136.28 390.67) scale(0.85 1)">11</text><text transform="translate(155.73 390.67) scale(0.85 1)">13</text><text transform="translate(175.19 390.67) scale(0.85 1)">6</text><text transform="translate(184.91 390.67) scale(0.85 1)">13</text><text transform="translate(194.64 390.67) scale(0.85 1)">8</text><text transform="translate(203.65 390.67) scale(0.85 1)">5</text></g>
<path d="M260.40 239.20V393.12M260.40 239.20H414.40M270.02 239.20V393.12M260.40 248.82H414.40M279.65 239.20V393.12M260.40 258.44H414.40M289.27 239.20V393.12M260.40 268.06H414.40M298.90 239.20V393.12M260.40 277.68H414.40M308.52 239.20V393.12M260.40 287.30H414.40M318.15 239.20V393.12M260.40 296.92H414.40M327.77 239.20V393.12M260.40 306.54H414.40M337.40 239.20V393.12M260.40 316.16H414.40M347.02 239.20V393.12M260.40 325.78H414.40M356.65 239.20V393.12M260.40 335.40H414.40M366.27 239.20V393.12M260.40 345.02H414.40M375.90 239.20V393.12M260.40 354.64H414.40M385.52 239.20V393.12M260.40 364.26H414.40M395.15 239.20V393.12M260.40 373.88H414.40M404.77 239.20V393.12M260.40 383.50H414.40M414.40 239.20V393.12M260.40 393.12H414.40" stroke="#c8ccd0" stroke-width="0.80" fill="none"/>
<rect x="327.77" y="239.20" width="9.62" height="9.62" fill="#eaf2fa"/><rect x="356.65" y="239.20" width="9.62" height="9.62" fill="#8dc1e2"/><rect x="404.77" y="239.20" width="9.62" height="9.62" fill="#eaf2fa"/><rect x="260.40" y="248.82" width="9.62" height="9.62" fill="#c0daee"/><rect x="337.40" y="248.82" width="9.62" height="9.62" fill="#08306b"/><rect x="298.90" y="268.06" width="9.62" height="9.62" fill="#8dc1e2"/><rect x="327.77" y="268.06" width="9.62" height="9.62" fill="#eaf2fa"/><rect x="347.02" y="268.06" width="9.62" height="9.62" fill="#72b2dc"/><rect x="356.65" y="277.68" width="9.62" height="9.62" fill="#8dc1e2"/><rect x="318.15" y="287.30" width="9.62" height="9.62" fill="#559fd3"/><rect x="327.77" y="287.30" width="9.62" height="9.62" fill="#559fd3"/><rect x="375.90" y="287.30" width="9.62" height="9.62" fill="#eaf2fa"/><rect x="356.65" y="296.92" width="9.62" height="9.62" fill="#8dc1e2"/><rect x="395.15" y="296.92" width="9.62" height="9.62" fill="#a7cfe8"/><rect x="279.65" y="306.54" width="9.62" height="9.62" fill="#72b2dc"/><rect x="260.40" y="316.16" width="9.62" height="9.62" fill="#8dc1e2"/><rect x="385.52" y="316.16" width="9.62" height="9.62" fill="#a7cfe8"/><rect x="289.27" y="325.78" width="9.62" height="9.62" fill="#a7cfe8"/><rect x="318.15" y="325.78" width="9.62" height="9.62" fill="#72b2dc"/><rect x="385.52" y="325.78" width="9.62" height="9.62" fill="#1f60a9"/><rect x="260.40" y="335.40" width="9.62" height="9.62" fill="#2a6db5"/><rect x="308.52" y="335.40" width="9.62" height="9.62" fill="#08306b"/><rect x="385.52" y="335.40" width="9.62" height="9.62" fill="#08306b"/><rect x="404.77" y="354.64" width="9.62" height="9.62" fill="#08306b"/><rect x="260.40" y="364.26" width="9.62" height="9.62" fill="#2a6db5"/><rect x="327.77" y="364.26" width="9.62" height="9.62" fill="#72b2dc"/><rect x="337.40" y="364.26" width="9.62" height="9.62" fill="#347fc1"/><rect x="347.02" y="364.26" width="9.62" height="9.62" fill="#3f8bc8"/><rect x="385.52" y="364.26" width="9.62" height="9.62" fill="#08306b"/><rect x="395.15" y="364.26" width="9.62" height="9.62" fill="#d5e6f4"/><rect x="308.52" y="373.88" width="9.62" height="9.62" fill="#1f60a9"/><rect x="385.52" y="373.88" width="9.62" height="9.62" fill="#347fc1"/><rect x="289.27" y="383.50" width="9.62" height="9.62" fill="#347fc1"/>
<path d="M327.77 239.20H337.40V248.82H327.77ZM356.65 239.20H366.27V248.82H356.65ZM404.77 239.20H414.40V248.82H404.77ZM260.40 248.82H270.02V258.44H260.40ZM337.40 248.82H347.02V258.44H337.40ZM298.90 268.06H308.52V277.68H298.90ZM327.77 268.06H337.40V277.68H327.77ZM347.02 268.06H356.65V277.68H347.02ZM356.65 277.68H366.27V287.30H356.65ZM318.15 287.30H327.77V296.92H318.15ZM327.77 287.30H337.40V296.92H327.77ZM375.90 287.30H385.52V296.92H375.90ZM356.65 296.92H366.27V306.54H356.65ZM395.15 296.92H404.77V306.54H395.15ZM279.65 306.54H289.27V316.16H279.65ZM260.40 316.16H270.02V325.78H260.40ZM385.52 316.16H395.15V325.78H385.52ZM289.27 325.78H298.90V335.40H289.27ZM318.15 325.78H327.77V335.40H318.15ZM385.52 325.78H395.15V335.40H385.52ZM260.40 335.40H270.02V345.02H260.40ZM308.52 335.40H318.15V345.02H308.52ZM385.52 335.40H395.15V345.02H385.52ZM404.77 354.64H414.40V364.26H404.77ZM260.40 364.26H270.02V373.88H260.40ZM327.77 364.26H337.40V373.88H327.77ZM337.40 364.26H347.02V373.88H337.40ZM347.02 364.26H356.65V373.88H347.02ZM385.52 364.26H395.15V373.88H385.52ZM395.15 364.26H404.77V373.88H395.15ZM308.52 373.88H318.15V383.50H308.52ZM385.52 373.88H395.15V383.50H385.52ZM289.27 383.50H298.90V393.12H289.27Z" stroke="rgba(215,225,235,0.5)" stroke-width="0.60" fill="none"/>
<g font-family="Liberation Sans, sans-serif" font-weight="bold" font-size="5.90" fill="#000" stroke="#000" stroke-width="0.05" text-anchor="middle" text-rendering="geometricPrecision"><text transform="translate(332.59 245.93) scale(0.85 1)">1</text><text transform="translate(361.46 245.93) scale(0.85 1)">5</text><text transform="translate(409.59 245.93) scale(0.85 1)">1</text><text transform="translate(265.21 255.55) scale(0.85 1)">3</text><text transform="translate(342.21 255.55) scale(0.85 1)">13</text><text transform="translate(303.71 274.79) scale(0.85 1)">5</text><text transform="translate(332.59 274.79) scale(0.85 1)">1</text><text transform="translate(351.84 274.79) scale(0.85 1)">6</text><text transform="translate(361.46 284.41) scale(0.85 1)">5</text><text transform="translate(322.96 294.03) scale(0.85 1)">7</text><text transform="translate(332.59 294.03) scale(0.85 1)">7</text><text transform="translate(380.71 294.03) scale(0.85 1)">1</text><text transform="translate(361.46 303.65) scale(0.85 1)">5</text><text transform="translate(399.96 303.65) scale(0.85 1)">4</text><text transform="translate(284.46 313.27) scale(0.85 1)">6</text><text transform="translate(265.21 322.89) scale(0.85 1)">5</text><text transform="translate(390.34 322.89) scale(0.85 1)">4</text><text transform="translate(294.09 332.51) scale(0.85 1)">4</text><text transform="translate(322.96 332.51) scale(0.85 1)">6</text><text transform="translate(390.34 332.51) scale(0.85 1)">11</text><text transform="translate(265.21 342.13) scale(0.85 1)">10</text><text transform="translate(313.34 342.13) scale(0.85 1)">13</text><text transform="translate(390.34 342.13) scale(0.85 1)">13</text><text transform="translate(409.59 361.37) scale(0.85 1)">13</text><text transform="translate(265.21 370.99) scale(0.85 1)">10</text><text transform="translate(332.59 370.99) scale(0.85 1)">6</text><text transform="translate(342.21 370.99) scale(0.85 1)">9</text><text transform="translate(351.84 370.99) scale(0.85 1)">8</text><text transform="translate(390.34 370.99) scale(0.85 1)">13</text><text transform="translate(399.96 370.99) scale(0.85 1)">2</text><text transform="translate(313.34 380.61) scale(0.85 1)">11</text><text transform="translate(390.34 380.61) scale(0.85 1)">9</text><text transform="translate(294.09 390.23) scale(0.85 1)">9</text></g>
<path d="M468.50 238.50V392.20M468.50 238.50H622.26M478.11 238.50V392.20M468.50 248.11H622.26M487.72 238.50V392.20M468.50 257.71H622.26M497.33 238.50V392.20M468.50 267.32H622.26M506.94 238.50V392.20M468.50 276.92H622.26M516.55 238.50V392.20M468.50 286.53H622.26M526.16 238.50V392.20M468.50 296.14H622.26M535.77 238.50V392.20M468.50 305.74H622.26M545.38 238.50V392.20M468.50 315.35H622.26M554.99 238.50V392.20M468.50 324.95H622.26M564.60 238.50V392.20M468.50 334.56H622.26M574.21 238.50V392.20M468.50 344.17H622.26M583.82 238.50V392.20M468.50 353.77H622.26M593.43 238.50V392.20M468.50 363.38H622.26M603.04 238.50V392.20M468.50 372.98H622.26M612.65 238.50V392.20M468.50 382.59H622.26M622.26 238.50V392.20M468.50 392.20H622.26" stroke="#c8ccd0" stroke-width="0.80" fill="none"/>
<rect x="468.50" y="238.50" width="9.61" height="9.61" fill="#3f8bc8"/><rect x="478.11" y="267.32" width="9.61" height="9.61" fill="#3f8bc8"/><rect x="545.38" y="267.32" width="9.61" height="9.61" fill="#2a6db5"/><rect x="583.82" y="267.32" width="9.61" height="9.61" fill="#72b2dc"/><rect x="478.11" y="276.92" width="9.61" height="9.61" fill="#3f8bc8"/><rect x="487.72" y="286.53" width="9.61" height="9.61" fill="#eaf2fa"/><rect x="497.33" y="286.53" width="9.61" height="9.61" fill="#eaf2fa"/><rect x="545.38" y="286.53" width="9.61" height="9.61" fill="#eaf2fa"/><rect x="564.60" y="286.53" width="9.61" height="9.61" fill="#eaf2fa"/><rect x="593.43" y="286.53" width="9.61" height="9.61" fill="#72b2dc"/><rect x="612.65" y="286.53" width="9.61" height="9.61" fill="#3f8bc8"/><rect x="593.43" y="296.14" width="9.61" height="9.61" fill="#3f8bc8"/><rect x="564.60" y="315.35" width="9.61" height="9.61" fill="#a7cfe8"/><rect x="593.43" y="315.35" width="9.61" height="9.61" fill="#a7cfe8"/><rect x="487.72" y="324.95" width="9.61" height="9.61" fill="#1f60a9"/><rect x="593.43" y="324.95" width="9.61" height="9.61" fill="#1f60a9"/><rect x="516.55" y="334.56" width="9.61" height="9.61" fill="#eaf2fa"/><rect x="583.82" y="334.56" width="9.61" height="9.61" fill="#c0daee"/>
<path d="M468.50 238.50H478.11V248.11H468.50ZM478.11 267.32H487.72V276.92H478.11ZM545.38 267.32H554.99V276.92H545.38ZM583.82 267.32H593.43V276.92H583.82ZM478.11 276.92H487.72V286.53H478.11ZM487.72 286.53H497.33V296.14H487.72ZM497.33 286.53H506.94V296.14H497.33ZM545.38 286.53H554.99V296.14H545.38ZM564.60 286.53H574.21V296.14H564.60ZM593.43 286.53H603.04V296.14H593.43ZM612.65 286.53H622.26V296.14H612.65ZM593.43 296.14H603.04V305.74H593.43ZM564.60 315.35H574.21V324.95H564.60ZM593.43 315.35H603.04V324.95H593.43ZM487.72 324.95H497.33V334.56H487.72ZM593.43 324.95H603.04V334.56H593.43ZM516.55 334.56H526.16V344.17H516.55ZM583.82 334.56H593.43V344.17H583.82Z" stroke="rgba(215,225,235,0.5)" stroke-width="0.60" fill="none"/>
<g font-family="Liberation Sans, sans-serif" font-weight="bold" font-size="5.90" fill="#000" stroke="#000" stroke-width="0.05" text-anchor="middle" text-rendering="geometricPrecision"><text transform="translate(473.31 245.23) scale(0.85 1)">8</text><text transform="translate(482.92 274.05) scale(0.85 1)">8</text><text transform="translate(550.18 274.05) scale(0.85 1)">10</text><text transform="translate(588.62 274.05) scale(0.85 1)">6</text><text transform="translate(482.92 283.65) scale(0.85 1)">8</text><text transform="translate(492.52 293.26) scale(0.85 1)">1</text><text transform="translate(502.13 293.26) scale(0.85 1)">1</text><text transform="translate(550.18 293.26) scale(0.85 1)">1</text><text transform="translate(569.40 293.26) scale(0.85 1)">1</text><text transform="translate(598.23 293.26) scale(0.85 1)">6</text><text transform="translate(617.45 293.26) scale(0.85 1)">8</text><text transform="translate(598.23 302.86) scale(0.85 1)">8</text><text transform="translate(569.40 322.08) scale(0.85 1)">4</text><text transform="translate(598.23 322.08) scale(0.85 1)">4</text><text transform="translate(492.52 331.68) scale(0.85 1)">11</text><text transform="translate(598.23 331.68) scale(0.85 1)">11</text><text transform="translate(521.36 341.29) scale(0.85 1)">1</text><text transform="translate(588.62 341.29) scale(0.85 1)">3</text></g>
<g font-family="Liberation Sans, sans-serif" font-size="6.20" fill="#1a1a1a" stroke="#1a1a1a" stroke-width="0.1" text-anchor="end"><text x="53.00" y="59.87">Beer</text><text x="53.00" y="69.40">Bottled Juice</text><text x="53.00" y="78.93">Refrigerated Juice</text><text x="53.00" y="88.47">Frozen Juice</text><text x="53.00" y="98.00">Soft Drink</text><text x="53.00" y="107.53">Cracker</text><text x="53.00" y="117.07">Snack Cracker</text><text x="53.00" y="126.60">Front end candy</text><text x="53.00" y="136.13">Cookie</text><text x="53.00" y="145.67">Cheese</text><text x="53.00" y="155.20">Canned Soup</text><text x="53.00" y="164.73">Cereal</text><text x="53.00" y="174.26">Oatmeal</text><text x="53.00" y="183.80">Frozen Dinner</text><text x="53.00" y="193.33">Frozen Entree</text><text x="53.00" y="202.86">Canned Tuna</text></g>
<g font-family="Liberation Sans, sans-serif" font-size="6.45" fill="#1a1a1a" stroke="#1a1a1a" stroke-width="0.1" text-anchor="end"><text x="51.20" y="244.98">Beer</text><text x="51.20" y="254.68">Bottled Juice</text><text x="51.20" y="264.39">Refrigerated Juice</text><text x="51.20" y="274.09">Frozen Juice</text><text x="51.20" y="283.80">Soft Drink</text><text x="51.20" y="293.50">Cracker</text><text x="51.20" y="303.21">Snack Cracker</text><text x="51.20" y="312.92">Front end candy</text><text x="51.20" y="322.62">Cookie</text><text x="51.20" y="332.33">Cheese</text><text x="51.20" y="342.04">Canned Soup</text><text x="51.20" y="351.74">Cereal</text><text x="51.20" y="361.45">Oatmeal</text><text x="51.20" y="371.15">Frozen Dinner</text><text x="51.20" y="380.86">Frozen Entree</text><text x="51.20" y="390.56">Canned Tuna</text></g>
<g font-family="Liberation Sans, sans-serif" font-size="6.20" fill="#1a1a1a" stroke="#1a1a1a" stroke-width="0.1"><text transform="translate(63.08 52.00) rotate(-90)">Beer</text><text transform="translate(72.57 52.00) rotate(-90)">Bottled Juice</text><text transform="translate(82.06 52.00) rotate(-90)">Refrigerated Juice</text><text transform="translate(91.55 52.00) rotate(-90)">Frozen Juice</text><text transform="translate(101.04 52.00) rotate(-90)">Soft Drink</text><text transform="translate(110.53 52.00) rotate(-90)">Cracker</text><text transform="translate(120.02 52.00) rotate(-90)">Snack Cracker</text><text transform="translate(129.51 52.00) rotate(-90)">Front end candy</text><text transform="translate(139.00 52.00) rotate(-90)">Cookie</text><text transform="translate(148.49 52.00) rotate(-90)">Cheese</text><text transform="translate(157.98 52.00) rotate(-90)">Canned Soup</text><text transform="translate(167.47 52.00) rotate(-90)">Cereal</text><text transform="translate(176.96 52.00) rotate(-90)">Oatmeal</text><text transform="translate(186.45 52.00) rotate(-90)">Frozen Dinner</text><text transform="translate(195.94 52.00) rotate(-90)">Frozen Entree</text><text transform="translate(205.43 52.00) rotate(-90)">Canned Tuna</text></g>
<g font-family="Liberation Sans, sans-serif" font-size="6.20" fill="#1a1a1a" stroke="#1a1a1a" stroke-width="0.1"><text transform="translate(269.09 51.60) rotate(-90)">Beer</text><text transform="translate(278.60 51.60) rotate(-90)">Bottled Juice</text><text transform="translate(288.11 51.60) rotate(-90)">Refrigerated Juice</text><text transform="translate(297.62 51.60) rotate(-90)">Frozen Juice</text><text transform="translate(307.13 51.60) rotate(-90)">Soft Drink</text><text transform="translate(316.64 51.60) rotate(-90)">Cracker</text><text transform="translate(326.15 51.60) rotate(-90)">Snack Cracker</text><text transform="translate(335.66 51.60) rotate(-90)">Front end candy</text><text transform="translate(345.17 51.60) rotate(-90)">Cookie</text><text transform="translate(354.68 51.60) rotate(-90)">Cheese</text><text transform="translate(364.19 51.60) rotate(-90)">Canned Soup</text><text transform="translate(373.70 51.60) rotate(-90)">Cereal</text><text transform="translate(383.21 51.60) rotate(-90)">Oatmeal</text><text transform="translate(392.72 51.60) rotate(-90)">Frozen Dinner</text><text transform="translate(402.23 51.60) rotate(-90)">Frozen Entree</text><text transform="translate(411.74 51.60) rotate(-90)">Canned Tuna</text></g>
<g font-family="Liberation Sans, sans-serif" font-size="6.20" fill="#1a1a1a" stroke="#1a1a1a" stroke-width="0.1"><text transform="translate(477.65 53.00) rotate(-90)">Beer</text><text transform="translate(487.08 53.00) rotate(-90)">Bottled Juice</text><text transform="translate(496.51 53.00) rotate(-90)">Refrigerated Juice</text><text transform="translate(505.94 53.00) rotate(-90)">Frozen Juice</text><text transform="translate(515.37 53.00) rotate(-90)">Soft Drink</text><text transform="translate(524.80 53.00) rotate(-90)">Cracker</text><text transform="translate(534.23 53.00) rotate(-90)">Snack Cracker</text><text transform="translate(543.66 53.00) rotate(-90)">Front end candy</text><text transform="translate(553.09 53.00) rotate(-90)">Cookie</text><text transform="translate(562.52 53.00) rotate(-90)">Cheese</text><text transform="translate(571.95 53.00) rotate(-90)">Canned Soup</text><text transform="translate(581.38 53.00) rotate(-90)">Cereal</text><text transform="translate(590.81 53.00) rotate(-90)">Oatmeal</text><text transform="translate(600.24 53.00) rotate(-90)">Frozen Dinner</text><text transform="translate(609.67 53.00) rotate(-90)">Frozen Entree</text><text transform="translate(619.10 53.00) rotate(-90)">Canned Tuna</text></g>
<text x="60.60" y="221.00" textLength="136.05" lengthAdjust="spacingAndGlyphs" font-family="Liberation Serif, serif" font-size="12.20" fill="#111" text-rendering="geometricPrecision">(a) HVARX: Sales (endog.)</text>
<text x="269.40" y="221.00" textLength="136.30" lengthAdjust="spacingAndGlyphs" font-family="Liberation Serif, serif" font-size="12.20" fill="#111" text-rendering="geometricPrecision">(b) HVARX: Price (exog.)</text>
<text x="478.60" y="221.30" textLength="144.90" lengthAdjust="spacingAndGlyphs" font-family="Liberation Serif, serif" font-size="12.20" fill="#111" text-rendering="geometricPrecision">(c) HVARX: Promo (exog.)</text>
<text x="59.35" y="409.10" textLength="142.90" lengthAdjust="spacingAndGlyphs" font-family="Liberation Serif, serif" font-size="12.20" fill="#111" text-rendering="geometricPrecision">(d) <tspan font-style="italic" font-size="13.6">ℓ</tspan><tspan font-size="8.78" dy="2.4">1</tspan><tspan dy="-2.4">-VARX: Sales (endog.)</tspan></text>
<text x="264.00" y="408.30" textLength="143.90" lengthAdjust="spacingAndGlyphs" font-family="Liberation Serif, serif" font-size="12.20" fill="#111" text-rendering="geometricPrecision">(e) <tspan font-style="italic" font-size="13.6">ℓ</tspan><tspan font-size="8.78" dy="2.4">1</tspan><tspan dy="-2.4">-VARX: Price (exog.)</tspan></text>
<text x="474.60" y="408.00" textLength="154.10" lengthAdjust="spacingAndGlyphs" font-family="Liberation Serif, serif" font-size="12.20" fill="#111" text-rendering="geometricPrecision">(f) <tspan font-style="italic" font-size="13.6">ℓ</tspan><tspan font-size="8.78" dy="2.4">1</tspan><tspan dy="-2.4">-VARX: Promo (exog.)</tspan></text>
<defs><linearGradient id="g1" x1="0" y1="1" x2="0" y2="0">
<stop offset="0.00" stop-color="#d6d6d6"/>
<stop offset="0.10" stop-color="#dadcde"/>
<stop offset="0.20" stop-color="#bcd5ea"/>
<stop offset="0.30" stop-color="#8fbde0"/>
<stop offset="0.40" stop-color="#6eaad9"/>
<stop offset="0.50" stop-color="#5098d0"/>
<stop offset="0.60" stop-color="#3f88c8"/>
<stop offset="0.70" stop-color="#2f78bf"/>
<stop offset="0.80" stop-color="#1f5faa"/>
<stop offset="0.90" stop-color="#0d4488"/>
<stop offset="1.00" stop-color="#08306b"/>
</linearGradient></defs>
<rect x="624.80" y="55.10" width="4.0" height="151.40" fill="url(#g1)" stroke="#a0a0a0" stroke-width="1.0"/>
<path d="M628.40 55.10H629.60" stroke="#444" stroke-width="0.6"/>
<path d="M628.40 70.24H629.60" stroke="#444" stroke-width="0.6"/>
<path d="M628.40 85.38H629.60" stroke="#444" stroke-width="0.6"/>
<path d="M628.40 100.52H629.60" stroke="#444" stroke-width="0.6"/>
<path d="M628.40 115.66H629.60" stroke="#444" stroke-width="0.6"/>
<path d="M628.40 130.80H629.60" stroke="#444" stroke-width="0.6"/>
<path d="M628.40 145.94H629.60" stroke="#444" stroke-width="0.6"/>
<path d="M628.40 161.08H629.60" stroke="#444" stroke-width="0.6"/>
<path d="M628.40 176.22H629.60" stroke="#444" stroke-width="0.6"/>
<path d="M628.40 191.36H629.60" stroke="#444" stroke-width="0.6"/>
<path d="M628.40 206.50H629.60" stroke="#444" stroke-width="0.6"/>
<g font-family="Liberation Sans, sans-serif" font-size="4.3" fill="#333"><text x="631.00" y="56.50">13</text><text x="631.00" y="71.64">12</text><text x="631.00" y="86.78">10</text><text x="631.00" y="101.92">8</text><text x="631.00" y="117.06">7</text><text x="631.00" y="132.20">6</text><text x="631.00" y="147.34">5</text><text x="631.00" y="162.48">4</text><text x="631.00" y="177.62">3</text><text x="631.00" y="192.76">1</text><text x="631.00" y="207.90">0</text></g>
<defs><linearGradient id="g2" x1="0" y1="1" x2="0" y2="0">
<stop offset="0.00" stop-color="#ffffff"/>
<stop offset="0.10" stop-color="#eef4fa"/>
<stop offset="0.20" stop-color="#d0e2f2"/>
<stop offset="0.30" stop-color="#a3cae7"/>
<stop offset="0.40" stop-color="#7cb6de"/>
<stop offset="0.50" stop-color="#5a9fd4"/>
<stop offset="0.60" stop-color="#4590ca"/>
<stop offset="0.70" stop-color="#3580c2"/>
<stop offset="0.80" stop-color="#2265ae"/>
<stop offset="0.90" stop-color="#0f4a8e"/>
<stop offset="1.00" stop-color="#08306b"/>
</linearGradient></defs>
<rect x="624.80" y="238.50" width="4.0" height="153.50" fill="url(#g2)" stroke="#a0a0a0" stroke-width="1.0"/>
<path d="M628.40 238.50H629.60" stroke="#444" stroke-width="0.6"/>
<path d="M628.40 253.85H629.60" stroke="#444" stroke-width="0.6"/>
<path d="M628.40 269.20H629.60" stroke="#444" stroke-width="0.6"/>
<path d="M628.40 284.55H629.60" stroke="#444" stroke-width="0.6"/>
<path d="M628.40 299.90H629.60" stroke="#444" stroke-width="0.6"/>
<path d="M628.40 315.25H629.60" stroke="#444" stroke-width="0.6"/>
<path d="M628.40 330.60H629.60" stroke="#444" stroke-width="0.6"/>
<path d="M628.40 345.95H629.60" stroke="#444" stroke-width="0.6"/>
<path d="M628.40 361.30H629.60" stroke="#444" stroke-width="0.6"/>
<path d="M628.40 376.65H629.60" stroke="#444" stroke-width="0.6"/>
<path d="M628.40 392.00H629.60" stroke="#444" stroke-width="0.6"/>
<g font-family="Liberation Sans, sans-serif" font-size="4.3" fill="#333"><text x="631.00" y="239.90">13</text><text x="631.00" y="255.25">12</text><text x="631.00" y="270.60">10</text><text x="631.00" y="285.95">9</text><text x="631.00" y="301.30">8</text><text x="631.00" y="316.65">6</text><text x="631.00" y="332.00">5</text><text x="631.00" y="347.35">4</text><text x="631.00" y="362.70">3</text><text x="631.00" y="378.05">1</text><text x="631.00" y="393.40">0</text></g>
</svg></body></html>
